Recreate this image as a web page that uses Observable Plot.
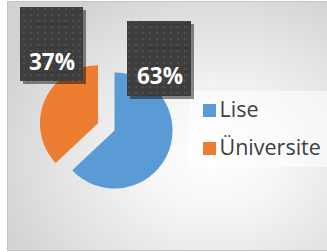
<!DOCTYPE html>
<html><head><meta charset="utf-8">
<script src="https://cdn.jsdelivr.net/npm/d3@7"></script>
<script src="https://cdn.jsdelivr.net/npm/@observablehq/plot@0.6"></script>
<style>
html,body{margin:0;padding:0;background:#fff;}
#wrap{position:relative;width:327px;height:252px;overflow:hidden;}
#bg{position:absolute;left:7px;top:1px;width:330px;height:248px;border:1px solid #c4c4c4;
 background:radial-gradient(ellipse 70% 75% at 62% 62%, #ffffff 0%, #f6f6f6 30%, #e2e2e2 70%, #d2d2d2 100%);}
#chart{position:absolute;left:0;top:0;}
</style></head>
<body><div id="wrap"><div id="bg"></div><div id="chart"></div></div>
<script>
// ---- data ----
const categories = ["Lise", "Üniversite"];
const values = [63, 37];

// ---- styles / layout ----
const colors = ["#5B9BD5", "#ED7D31"];
const W = 327, H = 252;
const cx = 114, cy = 130, R = 58;          // pie centre and radius (px)
const explode = [0, 18 / 58];              // slice explosion (in radii)
const font = "'Open Sans', sans-serif";

const total = d3.sum(values);
let acc = 0;
const slices = categories.map((c, i) => {
  const a0 = acc; acc += values[i] / total * 2 * Math.PI;
  const a1 = acc, mid = (a0 + a1) / 2;
  return {cat: c, value: values[i], a0, a1, ox: explode[i] * Math.sin(mid), oy: explode[i] * Math.cos(mid)};
});
const pts = [];
for (const s of slices) {
  pts.push({cat: s.cat, x: s.ox, y: s.oy});
  const n = 120;
  for (let k = 0; k <= n; k++) {
    const t = s.a0 + (s.a1 - s.a0) * k / n;
    pts.push({cat: s.cat, x: s.ox + Math.sin(t), y: s.oy + Math.cos(t)});
  }
  pts.push({cat: s.cat, x: s.ox, y: s.oy});
}

// helpers: px offsets -> data units
const ux = px => (px - cx) / R, uy = py => (cy - py) / R;

// label boxes (layout, px)
const labelBoxes = [
  {x1: 127, x2: 191, y1: 21, y2: 96, tx: 159.5, ty: 76},  // Lise
  {x1: 20, x2: 83, y1: 7, y2: 81, tx: 51.5, ty: 62}       // Üniversite
];
const labels = slices.map((s, i) => ({
  text: d3.format(".0%")(s.value / total),
  x1: ux(labelBoxes[i].x1), x2: ux(labelBoxes[i].x2),
  y1: uy(labelBoxes[i].y1), y2: uy(labelBoxes[i].y2),
  tx: ux(labelBoxes[i].tx), ty: uy(labelBoxes[i].ty)
}));

// legend layout
const legX = 203, legY0 = 110, legStep = 38, sq = 13;
const legend = categories.map((c, i) => ({
  cat: c,
  x1: ux(legX), x2: ux(legX + sq),
  y1: uy(legY0 + i * legStep - sq / 2 + 0.5), y2: uy(legY0 + i * legStep + sq / 2 + 0.5),
  tx: ux(legX + sq + 3), ty: uy(legY0 + i * legStep)
}));
const legendBox = [{x1: ux(189), x2: ux(330), y1: uy(91), y2: uy(167)}];

const svg = Plot.plot({
  width: W, height: H,
  margin: 0,
  style: {background: "transparent", overflow: "visible"},
  x: {domain: [-cx / R, (W - cx) / R], axis: null},
  y: {domain: [(cy - H) / R, cy / R], axis: null},
  color: {domain: categories, range: colors},
  marks: [
    Plot.rect(legendBox, {x1: "x1", x2: "x2", y1: "y1", y2: "y2", fill: "#ffffff", fillOpacity: 0.55}),
    Plot.line(pts, {x: "x", y: "y", z: "cat", fill: "cat", stroke: "none", curve: "linear"}),
    Plot.rect(labels, {x1: "x1", x2: "x2", y1: "y1", y2: "y2", fill: "#000", fillOpacity: 0.45, dx: 3, dy: 3, ariaLabel: "shadow"}),
    Plot.rect(labels, {x1: "x1", x2: "x2", y1: "y1", y2: "y2", fill: "url(#dots)"}),
    Plot.text(labels, {x: "tx", y: "ty", text: "text", fill: "#ffffff", fontSize: 22.5, fontWeight: "bold", fontFamily: font}),
    Plot.rect(legend, {x1: "x1", x2: "x2", y1: "y1", y2: "y2", fill: "cat"}),
    Plot.text(legend, {x: "tx", y: "ty", text: "cat", textAnchor: "start", fill: "#404040", fontSize: 21.5, fontFamily: font})
  ]
});

const ns = "http://www.w3.org/2000/svg";
const defs = document.createElementNS(ns, "defs");
defs.innerHTML = `
 <pattern id="dots" width="7" height="6" patternUnits="userSpaceOnUse">
   <rect width="7" height="6" fill="#3e3e3e"/>
   <rect x="2" y="2" width="2" height="2" fill="#4f4f4f"/>
 </pattern>
 <filter id="blur" x="-20%" y="-20%" width="140%" height="140%"><feGaussianBlur stdDeviation="2.2"/></filter>`;
svg.insertBefore(defs, svg.firstChild);
const sh = svg.querySelector('g[aria-label="shadow"]');
if (sh) sh.setAttribute("filter", "url(#blur)");
document.getElementById("chart").appendChild(svg);
</script></body></html>
